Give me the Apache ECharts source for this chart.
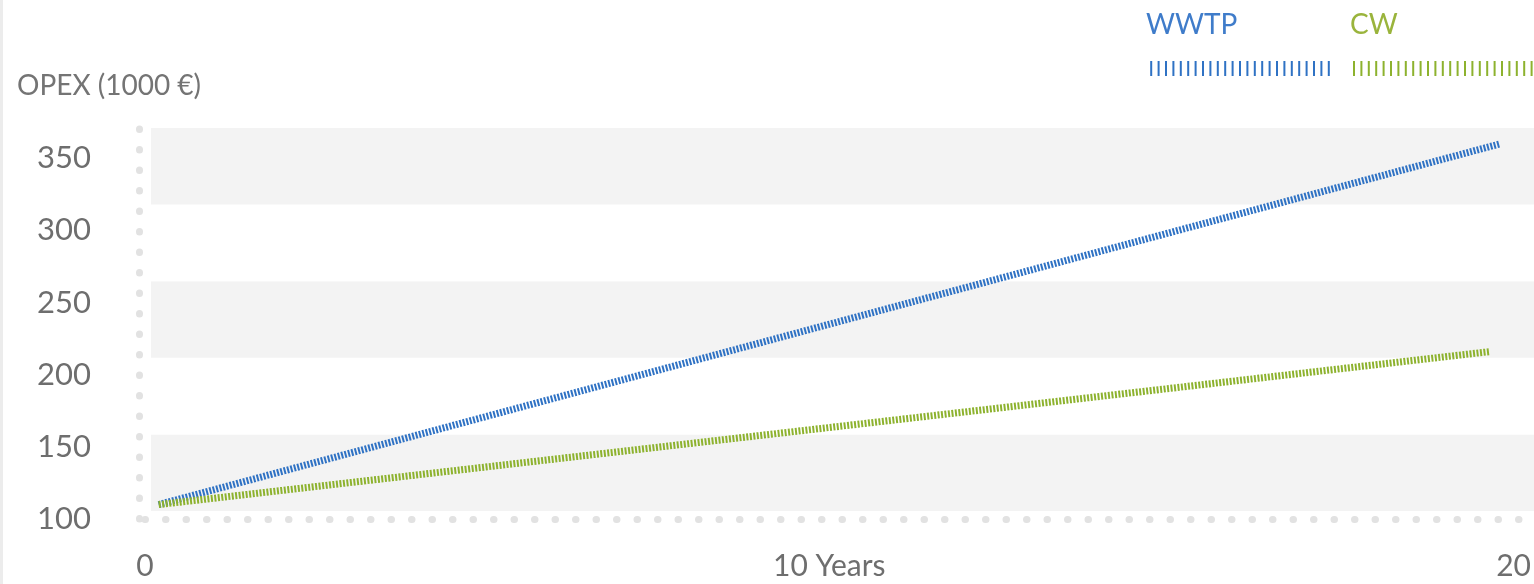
<!DOCTYPE html>
<html>
<head>
<meta charset="utf-8">
<script src="https://cdn.jsdelivr.net/npm/echarts@6/dist/echarts.min.js"></script>
<style>
  html, body { margin: 0; padding: 0; background: #fff; }
  #chart { width: 1534px; height: 584px; }
</style>
</head>
<body>
<div id="chart"></div>
<script>
// values
var seriesNames = ['WWTP', 'CW'];
var wwtpYears = [0.2, 19.8];
var wwtpOpex = [110, 360];
var cwYears = [0.2, 19.65];
var cwOpex = [110, 216];
var xTickLabels = {0: '0', 10: '10 Years', 20: '20'};
var colors = ['#2f72c4', '#8db22e'];
var nameColors = ['#3f7cca', '#9ab43c'];

function pairs(xs, ys) {
  return xs.map(function (x, i) { return [x, ys[i]]; });
}

// legend icon: a row of small vertical bars
var barPath = 'path://';
for (var i = 0; i < 25; i++) {
  var bx = i * 7.4;
  barPath += 'M' + bx + ',0h2v15h-2z';
}

var dotted = { color: '#e2e2e2', width: 7, type: [0.5, 20], cap: 'round' };
var font = 'Lato, "Open Sans", sans-serif';

var myChart = echarts.init(document.getElementById('chart'));
var option = {
  animation: false,
  title: {
    text: 'OPEX (1000 €)',
    left: 12, top: 67,
    textStyle: { fontFamily: font, fontSize: 28, fontWeight: 'normal', color: '#747474' }
  },
  legend: {
    data: seriesNames,
    orient: 'horizontal',
    left: 1150, top: 61, width: 500,
    padding: 0,
    icon: barPath,
    itemWidth: 180, itemHeight: 15,
    itemGap: 23,
    formatter: function () { return ''; },
    selectedMode: false
  },
  graphic: [
    { type: 'text', left: 1146, top: 11, style: { text: seriesNames[0], fill: nameColors[0], font: '28px ' + font } },
    { type: 'text', left: 1350, top: 11, style: { text: seriesNames[1], fill: nameColors[1], font: '28px ' + font } },
    { type: 'rect', shape: { x: 0, y: 0, width: 3, height: 584 }, style: { fill: '#ececec' }, z: -1 }
  ],
  grid: [
    { left: 145, right: 0, top: 128, height: 391 },
    { left: 151, right: 0, top: 128, height: 383 }
  ],
  xAxis: [
    {
      type: 'value', gridIndex: 0,
      min: 0, max: 20.28, interval: 10,
      axisLine: { onZero: false, lineStyle: dotted },
      axisTick: { show: false },
      splitLine: { show: false },
      axisLabel: {
        showMaxLabel: false,
        margin: 32,
        fontFamily: font, fontSize: 30, color: '#6e6e6e',
        formatter: function (v) { return xTickLabels[v] !== undefined ? xTickLabels[v] : ''; }
      }
    },
    { type: 'value', gridIndex: 1, min: 0, max: 1, show: false }
  ],
  yAxis: [
    {
      type: 'value', gridIndex: 0,
      min: 100, max: 371, interval: 50,
      offset: 6,
      axisLine: { show: true, onZero: false, lineStyle: dotted },
      axisTick: { show: false },
      splitLine: { show: false },
      axisLabel: {
        showMaxLabel: false,
        align: 'left', margin: 102,
        fontFamily: font, fontSize: 31, color: '#6e6e6e'
      }
    },
    {
      type: 'value', gridIndex: 1,
      min: 0, max: 5, interval: 1,
      axisLine: { show: false },
      axisTick: { show: false },
      axisLabel: { show: false },
      splitLine: { show: false },
      splitArea: { show: true, areaStyle: { color: ['#f3f3f3', '#ffffff'] } }
    }
  ],
  series: [
    {
      name: seriesNames[0], type: 'line',
      data: pairs(wwtpYears, wwtpOpex),
      showSymbol: false,
      itemStyle: { color: colors[0] },
      lineStyle: { color: colors[0], width: 7, type: [2, 1.5] },
      z: 3
    },
    {
      name: seriesNames[1], type: 'line',
      data: pairs(cwYears, cwOpex),
      showSymbol: false,
      itemStyle: { color: colors[1] },
      lineStyle: { color: colors[1], width: 7, type: [2, 1.5] },
      z: 4
    }
  ]
};
myChart.setOption(option);
</script>
</body>
</html>
